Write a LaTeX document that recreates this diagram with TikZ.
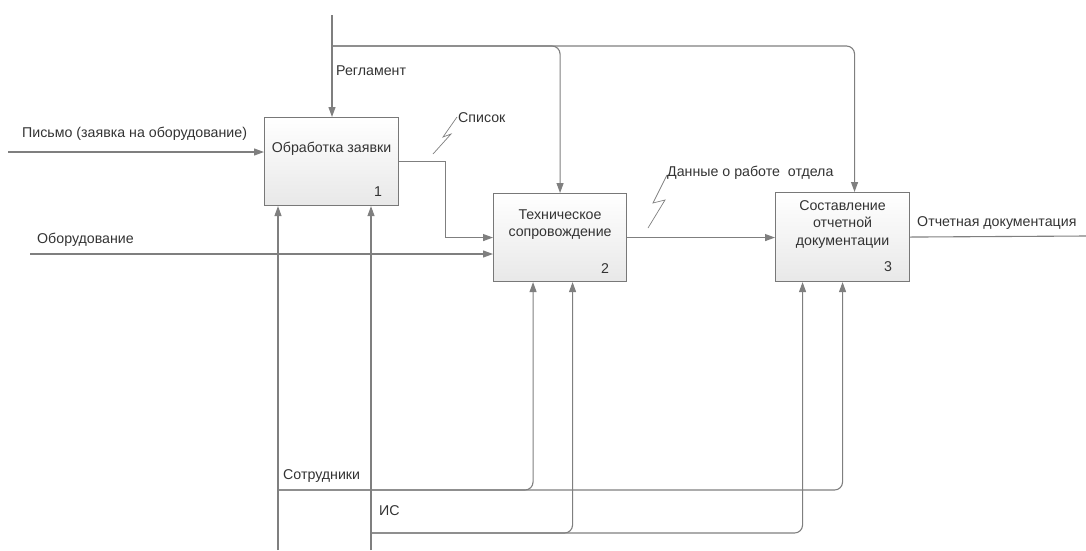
\documentclass[tikz,border=0pt]{standalone}
\usepackage{fontspec}
\setmainfont{Liberation Sans}
\usetikzlibrary{arrows.meta,calc}
\definecolor{linegray}{HTML}{7F7F7F}
\definecolor{boxedge}{HTML}{787878}
\definecolor{txt}{HTML}{333333}
\begin{document}
\begin{tikzpicture}[x=1pt,y=-1pt,
  font=\fontsize{14.2}{17}\selectfont,
  func/.style={draw=boxedge,line width=1.1pt,top color=white,bottom color=black!9,
    minimum width=134pt,minimum height=88pt,anchor=north west,inner sep=0pt},
  ftext/.style={text=txt,align=center,inner sep=0pt},
  lbl/.style={text=txt,anchor=west,inner sep=0pt},
  arr/.style={draw=linegray,line width=1.1pt,-{Triangle[length=10pt,width=7pt]}},
  conn/.style={draw=linegray,line width=1.1pt},
  squig/.style={draw=linegray,line width=0.7pt}]
\useasboundingbox (0,0) rectangle (1086,550);

% activity boxes
\node[func] (b1) at (264,117) {};
\node[func,minimum width=133pt] (b2) at (493,193) {};
\node[func,minimum height=89pt] (b3) at (775,192) {};

\node[ftext] at ([yshift=13pt]b1.center) {Обработка заявки};
\node[ftext] at ([yshift=13pt]b2.center) {Техническое\\сопровождение};
\node[ftext,font=\fontsize{14.2}{17.5}\selectfont] at ([yshift=13pt]b3.center) {Составление\\отчетной\\документации};

\node[ftext] at ([xshift=-21pt,yshift=14pt]b1.south east) {1};
\node[ftext] at ([xshift=-22pt,yshift=14pt]b2.south east) {2};
\node[ftext] at ([xshift=-22pt,yshift=15pt]b3.south east) {3};

% control: regulations
\coordinate (ctop) at (332,15);
\coordinate (cj) at (332,46);
\draw[arr] (ctop) -- (ctop |- b1.north);
\draw[arr,rounded corners=8pt] (cj) -| (b2.north);
\draw[arr,rounded corners=8pt] (cj) -| ([xshift=12pt]b3.north);

% inputs
\coordinate (in1) at (8,152);
\coordinate (in2) at (30,254);
\draw[arr] (in1) -- (in1 -| b1.west);
\draw[arr] (in2) -- (in2 -| b2.west);

% flows between activities
\draw[arr] (b1.east) -- ([xshift=46pt]b1.east) |- (b2.west);
\draw[arr] (b2.east) -- (b2.east -| b3.west);
\coordinate (out) at (1086,236);
\draw[conn] (b3.east) -- (out);

% mechanisms: staff
\coordinate (m1) at (278,550);
\coordinate (sj) at (278,490);
\draw[arr] (m1) -- (m1 |- b1.south);
\draw[arr,rounded corners=8pt] (sj) -| ([xshift=-27pt]b2.south);
\draw[arr,rounded corners=8pt] (sj) -| (b3.south);

% mechanisms: information system
\coordinate (m2) at (371,550);
\coordinate (ij) at (371,533);
\draw[arr] (m2) -- (m2 |- b1.south);
\draw[arr,rounded corners=8pt] (ij) -| ([xshift=12.5pt]b2.south);
\draw[arr,rounded corners=8pt] (ij) -| ([xshift=-40pt]b3.south);

% tunnel squiggles
\draw[squig] (433,154) -- (451,134) -- (443,137) -- (457,117);
\draw[squig] (648,228) -- (665,200) -- (653,203) -- (667,175);

% arrow labels
\node[lbl] at (336,71) {Регламент};
\node[lbl] at (458,118) {Список};
\node[lbl] at (667,173) {Данные о работе\ \ отдела};
\node[lbl] at (917,223) {Отчетная документация};
\node[lbl] at (22,134) {Письмо (заявка на оборудование)};
\node[lbl] at (37,240) {Оборудование};
\node[lbl] at (283,476) {Сотрудники};
\node[lbl] at (379,511) {ИС};
\end{tikzpicture}
\end{document}
